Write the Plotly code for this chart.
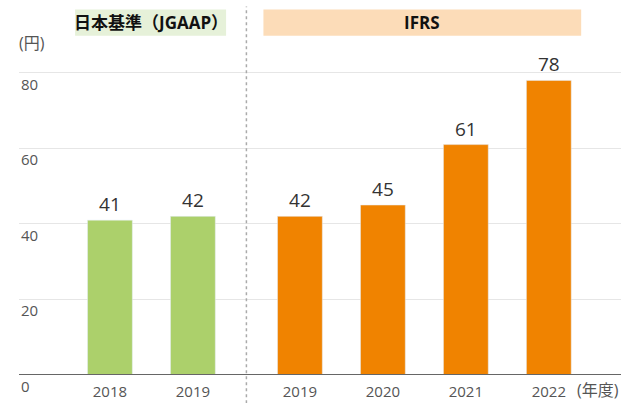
import plotly.graph_objects as go

jgaap_years = ["2018", "2019"]
jgaap_values = [41, 42]
ifrs_years = ["2019", "2020", "2021", "2022"]
ifrs_values = [42, 45, 61, 78]
y_ticks = [0, 20, 40, 60, 80]

FONT = "Open Sans, Noto Sans CJK JP, sans-serif"
gap = 1.29
jx = [i for i in range(len(jgaap_years))]
ix = [len(jgaap_years) - 1 + gap + i for i in range(len(ifrs_years))]
divider = (jx[-1] + ix[0]) / 2

fig = go.Figure()
fig.add_trace(go.Bar(x=jx, y=jgaap_values, marker_color="#acd06b", width=0.54,
                     text=[str(v) for v in jgaap_values], textposition="outside",
                     textfont=dict(size=19, color="#333", family=FONT), cliponaxis=False))
fig.add_trace(go.Bar(x=ix, y=ifrs_values, marker_color="#f08300", width=0.54,
                     text=[str(v) for v in ifrs_values], textposition="outside",
                     textfont=dict(size=19, color="#333", family=FONT), cliponaxis=False))

fig.update_layout(
    width=621, height=403, margin=dict(l=19, r=0, t=60, b=28, autoexpand=False),
    plot_bgcolor="white", paper_bgcolor="white", showlegend=False,
    font=dict(family=FONT, color="#555"),
    xaxis=dict(range=[-1.096, 6.16], tickvals=jx + ix, ticktext=jgaap_years + ifrs_years,
               tickfont=dict(size=15, color="#555"), showgrid=False, zeroline=False,
               showline=False, ticks="outside", ticklen=3, tickcolor="rgba(0,0,0,0)",
               automargin=False),
    yaxis=dict(range=[0, 83.4], tickvals=y_ticks[1:], showticklabels=False,
               gridcolor="#e6e6e6", gridwidth=1, zeroline=False, showline=False,
               automargin=False),
)
# baseline
fig.add_shape(type="line", xref="paper", yref="y", x0=0, x1=1, y0=0, y1=0,
              line=dict(color="#666", width=2))
# divider
fig.add_shape(type="line", xref="x", yref="paper", x0=divider, x1=divider, y0=-0.09, y1=1.17,
              line=dict(color="#aaa", width=1.5, dash="dot"))
# header boxes
fig.add_shape(type="rect", xref="x", yref="paper", x0=-0.42, x1=1.4, y0=1.077, y1=1.16,
              fillcolor="#e6f1d9", line_width=0, layer="below")
fig.add_shape(type="rect", xref="x", yref="paper", x0=1.85, x1=5.68, y0=1.077, y1=1.16,
              fillcolor="#fcdcb8", line_width=0, layer="below")
fig.add_annotation(x=(-0.42 + 1.4) / 2, y=1.1185, xref="x", yref="paper", text="<b>日本基準（JGAAP）</b>",
                   showarrow=False, yanchor="middle", font=dict(size=17, color="#111", family=FONT))
fig.add_annotation(x=(1.85 + 5.68) / 2, y=1.1185, xref="x", yref="paper", text="<b>IFRS</b>",
                   showarrow=False, yanchor="middle", font=dict(size=17, color="#111", family=FONT))
# y tick labels
for v in y_ticks:
    fig.add_annotation(x=0, y=v, xref="paper", yref="y", text=str(v), showarrow=False,
                       xanchor="left", yanchor="top", yshift=1, xshift=0,
                       font=dict(size=15, color="#555", family=FONT))
fig.add_annotation(x=-0.003, y=1.0, xref="paper", yref="paper", text="(円)", showarrow=False,
                   xanchor="left", yanchor="bottom", yshift=4,
                   font=dict(size=16, color="#555", family=FONT))
fig.add_annotation(x=1, y=0, xref="paper", yref="paper", text="(年度)", showarrow=False,
                   xanchor="right", yanchor="top", yshift=-2,
                   font=dict(size=16, color="#555", family=FONT))

fig.write_html("out.html", config={"displayModeBar": False},
               post_script="document.body.style.margin='0';")
